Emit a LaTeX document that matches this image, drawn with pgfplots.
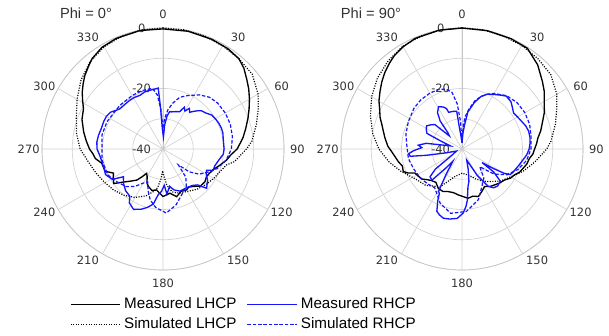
\documentclass[border=0pt]{standalone}
\usepackage{fontspec}
\setmainfont{DejaVu Sans}
\newfontfamily\lsans{Liberation Sans}
\usepackage{pgfplots}
\usepgfplotslibrary{polar}
\pgfplotsset{compat=1.18}
\usepackage{pgfplotstable}

% Phi = 0 deg
\pgfplotstableread{
t r
0 -0.3
12 -0.2
24 -0.3
33 -0.5
40 -1.0
45 -2.2
50 -3.9
55 -5.4
60 -7.0
65 -8.6
70 -10.1
76 -11.8
82 -13.3
86 -14.5
90 -15.5
95 -17.5
100 -18.7
106 -20.5
112 -22.0
118 -22.7
122 -23.0
128 -22.4
135 -22.6
141 -24.1
146 -24.8
150 -24.4
157 -24.8
164 -23.6
171 -25.2
180 -24.3
185 -25.5
189 -26.3
195 -25.8
201 -26.7
205 -27.5
210 -29.5
214 -30.3
217 -28.5
220 -26.6
225 -25.0
230 -23.0
235 -20.1
240 -21.0
244 -21.8
249 -19.5
257 -19.2
262 -17.4
266 -16.8
270 -15.7
276 -14.5
282 -13.2
290 -11.5
297 -10.5
301 -9.0
305 -7.4
309 -6.0
313 -4.6
318 -3.2
322 -2.0
329 -0.8
337 -0.3
349 -0.1
360 -0.3
}\mLa
\pgfplotstableread{
t r
0 0
10 0
20 -0.2
30 -0.6
40 -1.0
50 -1.5
60 -3.7
67 -5.8
75 -8.0
85 -10.5
90 -12.4
100 -16.0
104 -18.3
110 -19.5
120 -20.6
130 -21.6
140 -22.6
150 -23.8
160 -24.5
168 -25.5
174 -28.0
178 -31.0
181 -32.8
184 -30.0
188 -27.0
193 -25.5
200 -23.5
210 -21.5
220 -20.0
230 -18.8
240 -17.8
250 -16.5
260 -15.0
270 -12.6
280 -11.0
290 -9.5
300 -7.2
310 -4.6
320 -2.4
330 -1.0
340 -0.3
350 0
360 0
}\sLa
\pgfplotstableread{
t r
0 -35
2 -36
4 -32
7 -29
10 -27.5
13 -27.4
18 -27
24 -26.5
27 -24.5
30 -25.5
33 -24
36 -25
39 -24
42 -23
45 -22.1
50 -21.5
55 -20.4
60 -20
65 -19.7
70 -19.5
75 -19.5
80 -19.8
90 -19.8
95 -20
100 -21
108 -22
113 -22
116 -24
120 -23.5
125 -22
132 -20.6
136 -23.5
141 -24.5
148 -25
158 -25
165 -26
170 -27.5
175 -25
178 -28
182 -26
186 -24.8
190 -21.5
195 -20
200 -18.8
206 -17.8
212 -19
215 -20.9
222 -21.5
229 -22.7
235 -24
239 -20.5
246 -19.2
252 -19.5
258 -19.4
264 -19
270 -18.2
276 -18
282 -18.2
288 -18.5
295 -18.4
300 -18.4
305 -18.8
310 -20
313 -20.5
320 -20.6
326 -20.5
331 -20.5
337 -20.7
342 -20.2
347 -20.1
352 -20
355.5 -19.8
356.5 -26
358 -33
360 -35
}\mRa
\pgfplotstableread{
t r
0 -33
3 -30
7 -27
12 -24.5
18 -22
25 -20.5
34 -18.4
42 -17
50 -16.4
60 -16.2
70 -16.3
80 -16.7
90 -17.4
100 -18.8
110 -21
118 -23.5
125 -25.5
131 -28.5
136 -32.7
141 -28
148 -25.5
158 -23.6
167 -21
177 -18.8
187 -20.5
194 -22.6
200 -25.5
205 -28
210 -27
217 -24.5
224 -22.7
233 -21.5
245 -19.8
260 -19.5
270 -19.8
283 -19.3
296 -19.4
315 -19.7
330 -19.6
340 -19.5
350 -19.6
354 -22
357 -27
360 -33
}\sRa

% Phi = 90 deg
\pgfplotstableread{
t r
0 0
12 0
24 -0.1
33 -0.3
42 -2.6
50 -5.3
55 -6.8
60 -8.6
66 -10.2
71 -11.8
77 -13.3
82 -14.7
86 -15.3
90 -16
94 -16.5
98 -17.5
103 -18
108 -18.9
112 -19.5
116 -20.6
121 -21.3
126 -22.6
132 -23.2
138 -24
143 -24.5
149 -25.5
155 -24.5
161 -23.4
167 -24
173 -23.6
179 -24.3
185 -24.8
191 -25.3
198 -25.2
204 -24.6
211 -24.8
218 -26
224 -25.5
228 -24.8
233 -23.5
238 -23
243 -22.5
246 -20.5
249 -19.2
254 -19.5
259 -18.5
263 -17.8
268 -16.7
272 -15.5
278 -14.3
282 -13.5
287 -12.3
291 -11
296 -9.7
300 -8.3
305 -6.9
310 -5.4
315 -4
320 -2.8
324 -1.9
330 -1
337 -0.3
349 0
360 0
}\mLb
\pgfplotstableread{
t r
0 0
10 0
20 -0.2
30 -0.5
40 -1.0
50 -1.7
60 -3.8
67 -6.0
75 -8.0
85 -10.5
90 -12.0
100 -15.5
110 -18.5
120 -21.5
130 -23.5
143 -26.5
155 -29.0
165 -31.0
180 -32.0
195 -30.5
210 -25.6
225 -23.0
236 -21.9
250 -18.5
260 -15.5
270 -12.5
280 -10.0
290 -7.8
300 -5.5
310 -3.5
320 -2.0
330 -0.8
340 -0.3
350 0
360 0
}\sLb
\pgfplotstableread{
t r
0 -38
3 -35
6 -32
9 -27.6
15 -24
20 -21.5
25 -20
31 -19
36 -18
40 -17.2
46 -17.5
51 -18.5
55 -19.2
60 -18.8
65 -18.3
70 -17.6
75 -17.2
80 -17.2
85 -17.4
90 -17.8
95 -18.5
100 -19.5
105 -20.3
110 -21
115 -21.5
118 -22
120 -24
122 -28
124 -32
126 -27
130 -23.5
136 -23
141 -23.5
145 -25
150 -30
157 -36
163 -33
168 -29
171 -27.4
174 -23
176 -21
179 -18.8
184 -17
190 -16.5
195 -16.3
199 -17
202 -17.8
205 -21
207 -23.5
209 -24
212 -30
217 -35
220 -32
224 -25.7
229 -26
233 -29
238 -36
250 -38
256 -35
260 -28
262 -22.7
265 -22.3
268 -24
272 -26.7
275 -25.5
279 -28
285 -36
290 -33
294 -27.3
299 -26.5
303 -26
308 -27
312 -27.9
316 -34
319 -33
322 -28.3
326 -25.5
331 -24
336 -24.8
339 -25.7
340 -27.1
346 -27.2
352 -27.4
353 -32.6
356 -36
360 -38
}\mRb
\pgfplotstableread{
t r
0 -38
3 -32
6 -29
10 -26.5
15 -23.5
20 -21.5
25 -20
30 -18.8
40 -17
50 -16.2
60 -16
70 -16.2
80 -16.8
90 -17.2
100 -18.3
110 -20.3
120 -23
128 -26.5
135 -31.7
143 -28
152 -26
162 -22.4
176 -19.3
190 -18.4
202 -20.7
215 -24.3
225 -23.8
235 -23.2
248 -22.7
260 -22
274 -21.7
285 -20.8
297 -20.1
310 -19.2
320 -18.8
330 -18.7
338 -18.8
345 -19.5
350 -21
354 -25
357 -31
360 -38
}\sRb

\definecolor{rblue}{RGB}{20,20,255}
\definecolor{txt}{RGB}{50,50,50}

\pgfplotsset{
  pat/.style={
    scale only axis, width=181.5pt, height=181.5pt,
    xmin=90, xmax=450, ymin=0, ymax=40,
    xtick={90,120,...,420},
    xticklabels={},
    extra x ticks={90,124,152,180,208,236,270,304,332,360,388,416},
    extra x tick labels={0,330,300,270,240,210,180,150,120,90,60,30},
    extra x tick style={grid=none, major tick length=0pt,
      xticklabel style={anchor=center, shift={(\tick:10pt)}}},
    ytick={0,10,20,30,40},
    yticklabels={-40,,-20,,0},
    grid=major,
    major grid style={black!18, line width=0.5pt},
    axis line style={black!22, line width=0.5pt},
    major tick length=0pt,
    tick label style={font=\fontsize{8.6}{10}\selectfont, text=txt},
    yticklabel style={anchor=center, xshift=-16pt},
    clip=false,
  },
}

\begin{document}
\begin{tikzpicture}
\useasboundingbox (0,0) rectangle (456.75pt,-251.25pt);
\begin{polaraxis}[pat, at={(122.25pt,-111.75pt)}, anchor=center,
  legend columns=2,
  legend cell align=left,
  legend style={draw=none, fill=none, at={(axis description cs:0.115,-0.1)}, anchor=north west,
    font=\lsans\fontsize{11.4}{12}\selectfont, inner sep=0pt,
    nodes={inner sep=2.6pt},
    /tikz/every even column/.append style={column sep=5pt}, row sep=0pt},
  legend image code/.code={\draw[#1] (-3pt,0pt) -- (34pt,0pt);},
]
\addlegendimage{draw=black, line width=1pt}
\addlegendentry{Measured LHCP}
\addlegendimage{draw=rblue, line width=1pt}
\addlegendentry{Measured RHCP}
\addlegendimage{draw=black, line width=0.9pt, dash pattern=on 0.8pt off 1.1pt}
\addlegendentry{Simulated LHCP}
\addlegendimage{draw=rblue, line width=0.9pt, dash pattern=on 2.6pt off 1.4pt}
\addlegendentry{Simulated RHCP}
\addplot[forget plot, black, line width=1pt] table[x expr=450-\thisrow{t}, y expr=\thisrow{r}+40] {\mLa};
\addplot[forget plot, black, line width=0.9pt, dash pattern=on 0.8pt off 1.1pt] table[x expr=450-\thisrow{t}, y expr=\thisrow{r}+40] {\sLa};
\addplot[forget plot, rblue, line width=1pt] table[x expr=450-\thisrow{t}, y expr=\thisrow{r}+40] {\mRa};
\addplot[forget plot, rblue, line width=0.9pt, dash pattern=on 2.6pt off 1.4pt] table[x expr=450-\thisrow{t}, y expr=\thisrow{r}+40] {\sRa};
\end{polaraxis}
\begin{polaraxis}[pat, at={(346.5pt,-111.75pt)}, anchor=center]
\addplot[black, line width=1pt] table[x expr=450-\thisrow{t}, y expr=\thisrow{r}+40] {\mLb};
\addplot[black, line width=0.9pt, dash pattern=on 0.8pt off 1.1pt] table[x expr=450-\thisrow{t}, y expr=\thisrow{r}+40] {\sLb};
\addplot[rblue, line width=1pt] table[x expr=450-\thisrow{t}, y expr=\thisrow{r}+40] {\mRb};
\addplot[rblue, line width=0.9pt, dash pattern=on 2.6pt off 1.4pt] table[x expr=450-\thisrow{t}, y expr=\thisrow{r}+40] {\sRb};
\end{polaraxis}
\node[font=\lsans\fontsize{11}{13}\selectfont, text=txt] at (64.5pt,-9.75pt) {Phi = 0°};
\node[font=\lsans\fontsize{11}{13}\selectfont, text=txt] at (278.25pt,-9.75pt) {Phi = 90°};
\end{tikzpicture}
\end{document}
